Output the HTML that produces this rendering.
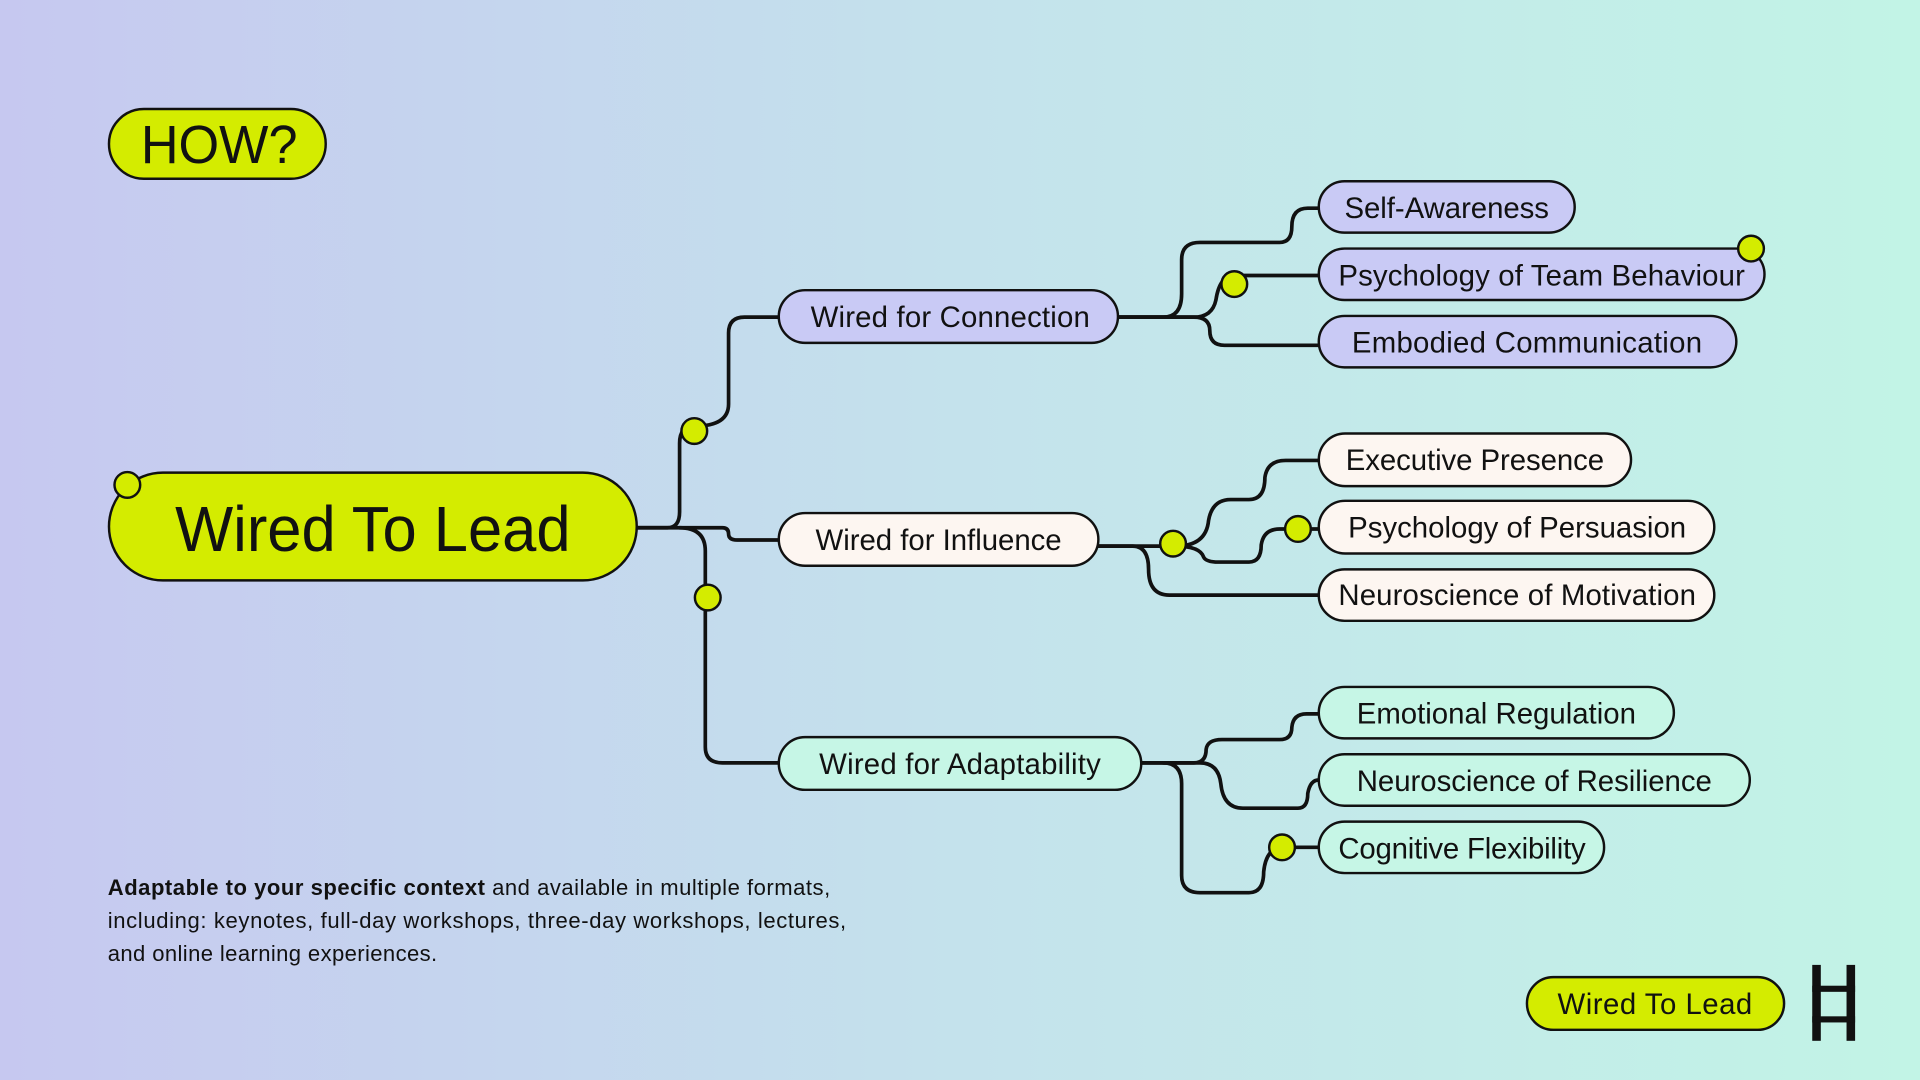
<!DOCTYPE html>
<html><head><meta charset="utf-8"><style>
html,body{margin:0;padding:0;width:1920px;height:1080px;overflow:hidden}
svg{display:block}
text{font-family:"Liberation Sans",sans-serif;fill:#111}
</style></head><body>
<svg width="1920" height="1080" viewBox="0 0 1568 882" xmlns="http://www.w3.org/2000/svg">
<defs><linearGradient id="bg" x1="0" y1="0" x2="1" y2="0">
<stop offset="0" stop-color="#c6c8f0"/><stop offset="0.5" stop-color="#c4e2ec"/><stop offset="1" stop-color="#c2f4e6"/></linearGradient></defs>
<rect width="1568" height="882" fill="url(#bg)"/>
<g fill="none" stroke="#111" stroke-width="3" stroke-linecap="round">
<path d="M520,431 H545 Q555,431 555,418 V362 Q555,348 567,348 Q595,348 595,330 V272 Q595,259 608,259 H636"/>
<path d="M520,431 H590 Q595,431 595,436 Q595,441 602,441 H636"/>
<path d="M555,431 Q576,431 576,450 V610 Q576,623 590,623 H636"/>
<path d="M913,259 H950 Q965,259 965,240 V212 Q965,198 980,198 H1045 Q1055,198 1055,185 Q1055,170 1068,170 H1077"/>
<path d="M913,259 H975 Q990,259 993,245 Q996,225 1008,225 H1077"/>
<path d="M913,259 H975 Q988,259 988,270 Q988,282 1000,282 H1077"/>
<path d="M897,446 H960 Q985,446 987,425 Q990,408 1005,408 H1020 Q1033,408 1033,390 Q1035,376 1050,376 H1077"/>
<path d="M960,446 Q980,446 983,455 Q985,459 995,459 H1020 Q1030,459 1030,445 Q1032,432 1045,432 H1077"/>
<path d="M897,446 H925 Q938,446 938,465 Q938,486 955,486 H1077"/>
<path d="M932,623 H975 Q985,623 985,612 Q986,604 998,604 H1045 Q1055,604 1055,594 Q1056,583 1067,583 H1077"/>
<path d="M932,623 H980 Q995,623 997,640 Q999,660 1015,660 H1060 Q1068,660 1068,648 Q1070,637 1077,637"/>
<path d="M950,623 Q965,623 965,640 V715 Q965,729 980,729 H1020 Q1032,729 1032,712 Q1034,692 1048,692 H1077"/>
</g>
<g stroke="#111" stroke-width="2">
<rect x="89" y="89" width="177" height="57" rx="28.5" fill="#d4ec00"/>
<rect x="89" y="386" width="431" height="88" rx="44" fill="#d4ec00"/>
<rect x="636" y="237" width="277" height="43" rx="21.5" fill="#c9caf5"/>
<rect x="636" y="419" width="261" height="43" rx="21.5" fill="#fdf6f1"/>
<rect x="636" y="602" width="296" height="43" rx="21.5" fill="#c6f6e6"/>
<rect x="1077" y="148" width="209" height="42" rx="21" fill="#c9caf5"/>
<rect x="1077" y="203" width="364" height="42" rx="21" fill="#c9caf5"/>
<rect x="1077" y="258" width="341" height="42" rx="21" fill="#c9caf5"/>
<rect x="1077" y="354" width="255" height="43" rx="21.5" fill="#fdf6f1"/>
<rect x="1077" y="409" width="323" height="43" rx="21.5" fill="#fdf6f1"/>
<rect x="1077" y="465" width="323" height="42" rx="21" fill="#fdf6f1"/>
<rect x="1077" y="561" width="290" height="42" rx="21" fill="#c6f6e6"/>
<rect x="1077" y="616" width="352" height="42" rx="21" fill="#c6f6e6"/>
<rect x="1077" y="671" width="233" height="42" rx="21" fill="#c6f6e6"/>
<rect x="1247" y="798" width="210" height="43" rx="21.5" fill="#d4ec00"/>
</g>
<g fill="#d4ec00" stroke="#111" stroke-width="2">
<circle cx="104" cy="396" r="10.5"/><circle cx="567" cy="352" r="10.5"/><circle cx="578" cy="488" r="10.5"/>
<circle cx="1008" cy="232" r="10.5"/><circle cx="1430" cy="203" r="10.5"/><circle cx="958" cy="444" r="10.5"/>
<circle cx="1060" cy="432" r="10.5"/><circle cx="1047" cy="692" r="10.5"/>
</g>
<text x="115" y="133" font-size="44" textLength="128" lengthAdjust="spacingAndGlyphs">HOW?</text>
<text x="143" y="450" font-size="52" textLength="323" lengthAdjust="spacingAndGlyphs">Wired To Lead</text>
<g font-size="24" lengthAdjust="spacingAndGlyphs">
<text x="662" y="267" textLength="228">Wired for Connection</text>
<text x="666" y="449" textLength="201">Wired for Influence</text>
<text x="669" y="632" textLength="230">Wired for Adaptability</text>
<text x="1098" y="178" textLength="167">Self-Awareness</text>
<text x="1093" y="233" textLength="332">Psychology of Team Behaviour</text>
<text x="1104" y="288" textLength="286">Embodied Communication</text>
<text x="1099" y="384" textLength="211">Executive Presence</text>
<text x="1101" y="439" textLength="276">Psychology of Persuasion</text>
<text x="1093" y="494" textLength="292">Neuroscience of Motivation</text>
<text x="1108" y="591" textLength="228">Emotional Regulation</text>
<text x="1108" y="646" textLength="290">Neuroscience of Resilience</text>
<text x="1093" y="701" textLength="202">Cognitive Flexibility</text>
<text x="1272" y="828" textLength="159">Wired To Lead</text>
</g>
<g font-size="18" fill="#222" lengthAdjust="spacingAndGlyphs">
<text x="88" y="731" textLength="590"><tspan font-weight="bold">Adaptable to your specific context</tspan> and available in multiple formats,</text>
<text x="88" y="758" textLength="603">including: keynotes, full-day workshops, three-day workshops, lectures,</text>
<text x="88" y="785" textLength="269">and online learning experiences.</text>
</g>
<g fill="#111">
<rect x="1480" y="788" width="7" height="62"/><rect x="1508" y="788" width="7" height="62"/>
<rect x="1480" y="805" width="35" height="5"/><rect x="1480" y="830" width="35" height="5"/>
</g>
</svg>
</body></html>
